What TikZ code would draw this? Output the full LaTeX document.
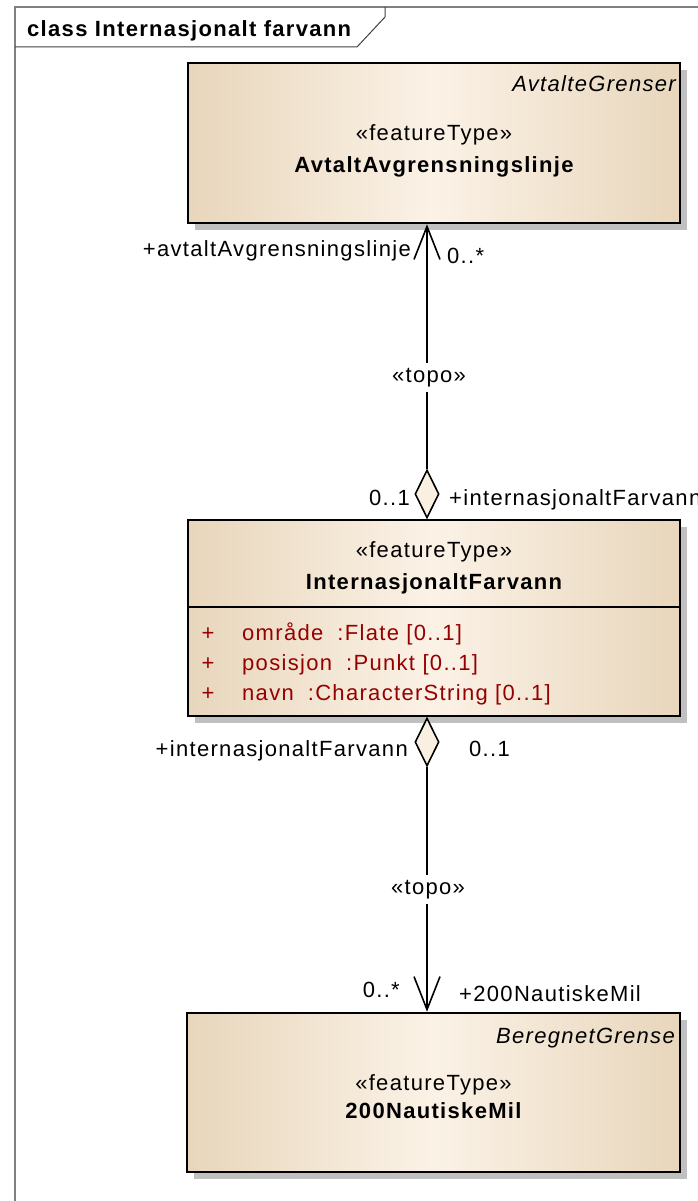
\documentclass[tikz,border=0pt]{standalone}
\usepackage{fontspec}
\setmainfont[LetterSpace=6]{Liberation Sans}
\usetikzlibrary{arrows.meta,shapes.geometric,shadows}
\definecolor{boxedge}{RGB}{232,214,188}
\definecolor{boxmid}{RGB}{251,242,230}
\definecolor{attrred}{RGB}{150,0,0}
\definecolor{shadowgray}{RGB}{192,192,192}
\definecolor{framegray}{RGB}{128,128,128}
\definecolor{diafill}{RGB}{250,240,226}
\tikzset{
  classbox/.style={rectangle, draw=black, line width=2.5pt, inner sep=0pt,
    left color=boxedge, right color=boxedge, middle color=boxmid,
    drop shadow={shadow xshift=7pt, shadow yshift=-7pt, fill=shadowgray, opacity=1}},
  txt/.style={inner sep=0pt, anchor=base, font=\fontsize{22}{26}\selectfont},
  bold/.style={font=\fontsize{22}{26}\selectfont\bfseries},
  ital/.style={font=\fontsize{22}{26}\selectfont\itshape},
  attr/.style={txt, text=attrred},
  conn/.style={draw=black, line width=1.6pt},
  dia/.style={diamond, draw=black, line width=1.6pt, fill=diafill, inner sep=0pt,
    minimum width=24pt, minimum height=48pt},
  topolbl/.style={txt, fill=white, inner xsep=1pt, inner ysep=5pt},
  barb/.style={-{Straight Barb[length=33pt,width=26pt]}}
}
\begin{document}
\begin{tikzpicture}[x=1pt,y=-1pt]
\clip (0,0) rectangle (698,1201);
\fill[white] (0,0) rectangle (698,1201);
% frame
\draw[framegray, line width=1.5pt] (15,1210) -- (15,7) -- (710,7);
\draw[black!75, line width=1pt] (385,7) -- (385,17) -- (357,47) -- (15,47);
\node[txt, bold, anchor=base west] (hdr) at (27,37) {class Internasjonalt farvann};
% classes
\node[classbox, minimum width=492pt, minimum height=160pt] (b1) at (434,143) {};
\node[classbox, minimum width=492pt, minimum height=196pt] (b2) at (434,618) {};
\node[classbox, minimum width=493pt, minimum height=159pt] (b3) at (433.5,1092.5) {};
\draw[black, line width=1.6pt] ([yshift=11pt]b2.west) -- ([yshift=11pt]b2.east);
% class texts
\node[txt, ital, anchor=base east] (s1) at (676,92) {AvtalteGrenser};
\node[txt] (t1a) at (434,141) {«featureType»};
\node[txt, bold] (t1b) at (434,172) {AvtaltAvgrensningslinje};
\node[txt] (t2a) at (434,557) {«featureType»};
\node[txt, bold] (t2b) at (434,589) {InternasjonaltFarvann};
\node[attr] (p1) at (208,640) {+};
\node[attr, anchor=base west] (a1) at (242,640) {område\hspace{14pt}:Flate [0..1]};
\node[attr] (p2) at (208,670) {+};
\node[attr, anchor=base west] (a2) at (242,670) {posisjon\hspace{14pt}:Punkt [0..1]};
\node[attr] (p3) at (208,700) {+};
\node[attr, anchor=base west] (a3) at (242,700) {navn\hspace{14pt}:CharacterString [0..1]};
\node[txt, ital, anchor=base east] (s3) at (675,1043) {BeregnetGrense};
\node[txt] (t3a) at (433.5,1090) {«featureType»};
\node[txt, bold] (t3b) at (433.5,1118) {200NautiskeMil};
% diamonds
\node[dia, anchor=south] (d1) at ([xshift=-7pt]b2.north) {};
\node[dia, anchor=north] (d2) at ([xshift=-7pt]b2.south) {};
% connectors
\draw[conn, barb] (d1.north) -- ([xshift=-7pt]b1.south);
\draw[conn, barb] (d2.south) -- ([xshift=-6.5pt]b3.north);
\node[topolbl] (topo1) at (429,382) {«topo»};
\node[topolbl] (topo2) at (428,894) {«topo»};
% role and multiplicity labels
\node[txt, anchor=base east] (l1) at (411,256) {+avtaltAvgrensningslinje};
\node[txt, anchor=base west] (m1) at (447,263) {0..*};
\node[txt, anchor=base east] (m2) at (410,505) {0..1};
\node[txt, anchor=base west] (l2) at (449,505) {+internasjonaltFarvann};
\node[txt, anchor=base east] (l3) at (408,756) {+internasjonaltFarvann};
\node[txt, anchor=base west] (m3) at (469,756) {0..1};
\node[txt, anchor=base east] (m4) at (400,997) {0..*};
\node[txt, anchor=base west] (l4) at (459,1001) {+200NautiskeMil};
\end{tikzpicture}
\end{document}
